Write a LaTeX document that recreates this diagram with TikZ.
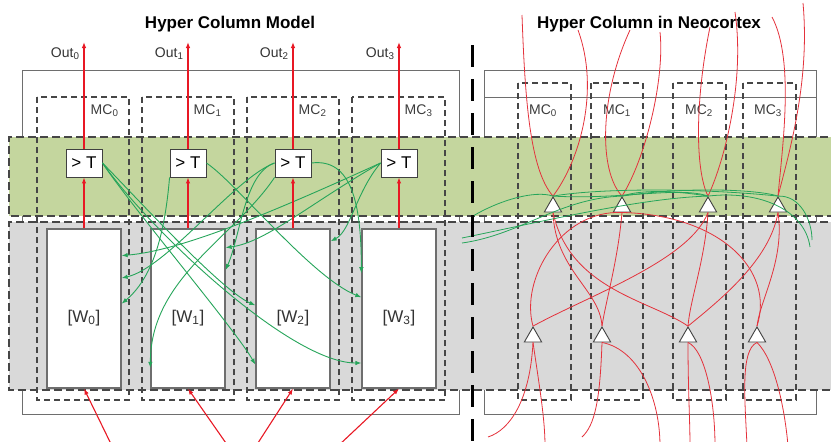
\documentclass[tikz,border=0pt]{standalone}
\usepackage{fontspec}
\setmainfont{Liberation Sans}
\usetikzlibrary{arrows.meta,calc,shapes.geometric}

\definecolor{bandgreen}{RGB}{196,214,158}
\definecolor{bandgray}{RGB}{217,217,217}
\definecolor{edgegray}{RGB}{70,70,70}
\definecolor{boxgray}{RGB}{110,110,110}
\definecolor{wiregreen}{RGB}{38,165,90}
\definecolor{wirered}{RGB}{232,24,36}
\definecolor{fibrered}{RGB}{228,50,60}
\definecolor{labelgray}{RGB}{60,60,60}

\begin{document}
\begin{tikzpicture}[x=1pt,y=-1pt,>={Latex[length=6pt,width=4.5pt]},
	mcbox/.style={draw=edgegray,line width=1.1pt,dash pattern=on 6pt off 4pt},
	bandline/.style={draw=edgegray,line width=1.4pt,dash pattern=on 8pt off 4pt},
	framebox/.style={draw=boxgray,line width=1pt},
	thbox/.style={draw=black!75,fill=white,line width=0.9pt,minimum width=36pt,minimum height=28pt,inner sep=0pt,font=\fontsize{17}{17}\selectfont},
	wbox/.style={draw=boxgray,fill=white,line width=1.3pt,minimum width=74pt,minimum height=159pt,inner sep=0pt},
	soma/.style={regular polygon,regular polygon sides=3,draw=black!75,fill=white,line width=0.9pt,minimum size=20pt,inner sep=0pt},
	redarrow/.style={draw=wirered,line width=1.1pt,->},
	greenarrow/.style={draw=wiregreen,line width=0.9pt,->},
	fibre/.style={draw=fibrered,line width=0.8pt},
	lateral/.style={draw=wiregreen,line width=0.8pt},
	mclabel/.style={text=labelgray,font=\fontsize{14}{14}\selectfont},
	outlabel/.style={text=black!80,font=\fontsize{14}{14}\selectfont,anchor=east},
	wlabel/.style={text=black!80,font=\fontsize{17}{17}\selectfont},
	headline/.style={font=\fontsize{17}{17}\selectfont\bfseries}]
		\useasboundingbox (0,0) rectangle (831,442);
		\clip (0,0) rectangle (831,442);

		% Titles of the two halves
		\node[headline] (titlemodel) at (230,24) {Hyper Column Model};
		\node[headline] (titlecortex) at (649,24) {Hyper Column in Neocortex};

		% Outer frames of the hyper columns
		\draw[framebox] (22,70) rectangle (459,414);
		\draw[framebox] (484,70) rectangle (816,414);
		\draw[framebox] (484,97) -- (816,97);

		% Green threshold band and gray weight band
		\fill[bandgreen] (9,137) rectangle (840,216);
		\fill[bandgray] (9,222) rectangle (840,390);
		\draw[bandline] (840,137) -- (9,137) -- (9,216) -- (840,216);
		\draw[bandline] (840,222) -- (9,222) -- (9,390) -- (840,390);

		% Minicolumns of the model
		\draw[mcbox] (37,97) rectangle (129,400);
		\draw[mcbox] (142,97) rectangle (234,400);
		\draw[mcbox] (247,97) rectangle (339,400);
		\draw[mcbox] (352,97) rectangle (445,400);
		\node[mclabel,anchor=east] (mc0) at (122,111) {MC\textsubscript{0}};
		\node[mclabel,anchor=east] (mc1) at (225,111) {MC\textsubscript{1}};
		\node[mclabel,anchor=east] (mc2) at (330,111) {MC\textsubscript{2}};
		\node[mclabel,anchor=east] (mc3) at (436,111) {MC\textsubscript{3}};

		% Minicolumns in the neocortex
		\draw[mcbox] (518,83) rectangle (571,400);
		\draw[mcbox] (591,83) rectangle (643,400);
		\draw[mcbox] (673,83) rectangle (726,400);
		\draw[mcbox] (743,83) rectangle (796,400);
		\node[mclabel] (mcr0) at (543,111) {MC\textsubscript{0}};
		\node[mclabel] (mcr1) at (617,111) {MC\textsubscript{1}};
		\node[mclabel] (mcr2) at (699,111) {MC\textsubscript{2}};
		\node[mclabel] (mcr3) at (768,111) {MC\textsubscript{3}};

		% Weight boxes
		\node[wbox] (w0) at (84,308.5) {};
		\node[wbox] (w1) at (188,308.5) {};
		\node[wbox] (w2) at (293,308.5) {};
		\node[wbox] (w3) at (399,308.5) {};
		\node[wlabel] (w0lbl) at (84,318) {[W\textsubscript{0}]};
		\node[wlabel] (w1lbl) at (188,318) {[W\textsubscript{1}]};
		\node[wlabel] (w2lbl) at (293,318) {[W\textsubscript{2}]};
		\node[wlabel] (w3lbl) at (399,318) {[W\textsubscript{3}]};

		% Threshold units
		\node[thbox] (t0) at (84,163) {> T};
		\node[thbox] (t1) at (188,163) {> T};
		\node[thbox] (t2) at (293,163) {> T};
		\node[thbox] (t3) at (399,163) {> T};

		% Lateral feedback from the threshold units
		\draw[greenarrow] (t0.east) .. controls +(25,25) and +(-35,-15) .. ($(w2.north west)!0.48!(w2.south west)$);
		\draw[greenarrow] (t0.east) .. controls +(30,45) and +(-20,-35) .. ($(w2.north west)!0.85!(w2.south west)$);
		\draw[greenarrow] (t0.east) .. controls +(50,70) and +(-70,0) .. ($(w3.north west)!0.84!(w3.south west)$);
		\draw[greenarrow] (t1.east) .. controls +(30,20) and +(-50,-20) .. ($(w3.north west)!0.43!(w3.south west)$);
		\draw[greenarrow] (t1.south west) .. controls +(-5,60) and +(30,-25) .. ($(w0.north east)!0.47!(w0.south east)$);
		\draw[greenarrow] (t2.west) .. controls +(-30,10) and +(15,-35) .. ($(w1.north east)!0.26!(w1.south east)$);
		\draw[greenarrow] (t2.west) .. controls +(-40,15) and +(45,-10) .. ($(w0.north east)!0.31!(w0.south east)$);
		\draw[greenarrow] (t2.south west) .. controls +(-40,60) and +(0,-90) .. ($(w1.north west)!0.87!(w1.south west)$);
		\draw[greenarrow] (t2.east) .. controls +(40,-5) and +(0,-70) .. ($(w3.north west)!0.28!(w3.south west)$);
		\draw[greenarrow] (t3.west) .. controls +(-25,30) and +(20,-10) .. ($(w2.north east)!0.08!(w2.south east)$);
		\draw[greenarrow] (t3.west) .. controls +(-70,40) and +(40,-5) .. ($(w1.north east)!0.12!(w1.south east)$);
		\draw[greenarrow] (t3.west) .. controls +(-110,50) and +(60,-5) .. ($(w0.north east)!0.17!(w0.south east)$);

		% Feed forward from weights to thresholds
		\draw[redarrow] (w0) -- (t0);
		\draw[redarrow] (w1) -- (t1);
		\draw[redarrow] (w2) -- (t2);
		\draw[redarrow] (w3) -- (t3);

		% Outputs
		\coordinate (out0) at (84,42);
		\coordinate (out1) at (188,42);
		\coordinate (out2) at (293,42);
		\coordinate (out3) at (399,42);
		\draw[redarrow] (t0) -- (out0);
		\draw[redarrow] (t1) -- (out1);
		\draw[redarrow] (t2) -- (out2);
		\draw[redarrow] (t3) -- (out3);
		\node[outlabel] (outlbl0) at (83,54) {Out\textsubscript{0}};
		\node[outlabel] (outlbl1) at (187,54) {Out\textsubscript{1}};
		\node[outlabel] (outlbl2) at (292,54) {Out\textsubscript{2}};
		\node[outlabel] (outlbl3) at (398,54) {Out\textsubscript{3}};

		% Inputs
		\coordinate (in0) at (112,446);
		\coordinate (in1) at (228,446);
		\coordinate (in2) at (256,446);
		\coordinate (in3) at (338,446);
		\draw[redarrow] (in0) -- (w0.south);
		\draw[redarrow] (in1) -- (w1.south);
		\draw[redarrow] (in2) -- (w2.south);
		\draw[redarrow] (in3) -- (w3.south);

		% Pyramidal cells in the neocortex
		\node[soma] (ua) at (553,207) {};
		\node[soma] (ub) at (622,207) {};
		\node[soma] (uc) at (708,207) {};
		\node[soma] (ud) at (778,207) {};
		\node[soma] (la) at (533,337) {};
		\node[soma] (lb) at (602,337) {};
		\node[soma] (lc) at (688,337) {};
		\node[soma] (ld) at (757,337) {};

		% Fibre ends at the top and bottom
		\coordinate (ta1) at (522,15);
		\coordinate (ta2) at (578,30);
		\coordinate (tb1) at (630,30);
		\coordinate (tb2) at (660,32);
		\coordinate (tc1) at (710,27);
		\coordinate (tc2) at (735,12);
		\coordinate (td1) at (772,17);
		\coordinate (td2) at (803,3);
		\coordinate (ba1) at (488,437);
		\coordinate (ba2) at (545,446);
		\coordinate (bb1) at (582,437);
		\coordinate (bb2) at (660,446);
		\coordinate (bc1) at (690,446);
		\coordinate (bc2) at (715,446);
		\coordinate (bd1) at (747,446);
		\coordinate (bd2) at (788,446);

		% Red fibres into the upper cells
		\draw[fibre] (ta1) .. controls (525,100) and (530,170) .. (ua.north);
		\draw[fibre] (ta2) .. controls (600,90) and (580,160) .. (ua.north);
		\draw[fibre] (tb1) .. controls (600,95) and (598,170) .. (ub.north);
		\draw[fibre] (tb2) .. controls (665,80) and (645,160) .. (ub.north);
		\draw[fibre] (tc1) .. controls (695,100) and (695,170) .. (uc.north);
		\draw[fibre] (tc2) .. controls (745,80) and (725,160) .. (uc.north);
		\draw[fibre] (td1) .. controls (795,60) and (782,150) .. (ud.north);
		\draw[fibre] (td2) .. controls (810,80) and (790,150) .. (ud.north);

		% Red fibres between upper and lower cells
		\draw[fibre] (ua.south) .. controls (555,270) and (600,290) .. (lb.north);
		\draw[fibre] (ua.south) .. controls (570,290) and (650,300) .. (lc.north);
		\draw[fibre] (ub.south) .. controls (560,210) and (520,280) .. (la.north);
		\draw[fibre] (ub.south) .. controls (720,215) and (775,270) .. (ld.north);
		\draw[fibre] (ub.south) .. controls (618,260) and (606,300) .. (lb.north);
		\draw[fibre] (uc.south) .. controls (690,260) and (590,295) .. (la.north);
		\draw[fibre] (uc.south) .. controls (705,260) and (690,300) .. (lc.north);
		\draw[fibre] (ud.south) .. controls (770,260) and (720,300) .. (lc.north);
		\draw[fibre] (ud.south) .. controls (785,260) and (760,300) .. (ld.north);

		% Red fibres out of the lower cells
		\draw[fibre] (la.south) .. controls (530,400) and (510,430) .. (ba1);
		\draw[fibre] (la.south) .. controls (540,390) and (545,420) .. (ba2);
		\draw[fibre] (lb.south) .. controls (600,400) and (595,425) .. (bb1);
		\draw[fibre] (lb.south) .. controls (640,350) and (660,400) .. (bb2);
		\draw[fibre] (lc.south) .. controls (688,390) and (690,420) .. (bc1);
		\draw[fibre] (lc.south) .. controls (705,350) and (715,400) .. (bc2);
		\draw[fibre] (ld.south) .. controls (740,350) and (745,400) .. (bd1);
		\draw[fibre] (ld.south) .. controls (775,360) and (785,410) .. (bd2);

		% Green lateral fibres along the upper cells
		\coordinate (gl1) at (473,216);
		\coordinate (gl2) at (462,243);
		\coordinate (gl3) at (462,238);
		\coordinate (gr1) at (810,247);
		\coordinate (gr2) at (812,240);
		\draw[lateral] (ud.north) .. controls (700,188) and (600,188) .. (ua.north);
		\draw[lateral] (uc.north) .. controls (670,190) and (640,190) .. (ub.north);
		\draw[lateral] (ua.north) .. controls (620,200) and (680,186) .. (uc.north);
		\draw[lateral] (ub.north) .. controls (690,186) and (760,190) .. (ud.north);
		\draw[lateral] (ua.north) .. controls (535,190) and (500,200) .. (gl1);
		\draw[lateral] (ub.north) .. controls (560,198) and (520,235) .. (gl2);
		\draw[lateral] (uc.north) .. controls (640,198) and (540,222) .. (gl3);
		\draw[lateral] (uc.north) .. controls (760,190) and (805,210) .. (gr1);
		\draw[lateral] (ud.north) .. controls (800,195) and (812,220) .. (gr2);

		% Separator between the two halves
		\draw[line width=3pt,dash pattern=on 22pt off 12pt] (472,45) -- (472,446);
	\end{tikzpicture}
\end{document}
